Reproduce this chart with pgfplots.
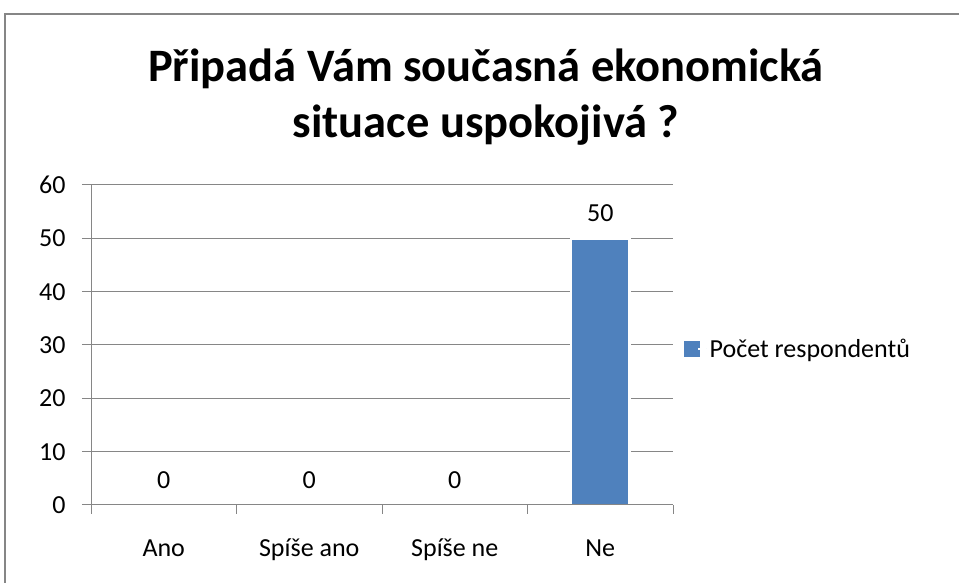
\documentclass[border=0pt]{standalone}
\usepackage{fontspec}
\setmainfont{Carlito}
\usepackage{pgfplots}
\pgfplotsset{compat=1.18}
\definecolor{barblue}{HTML}{4F81BD}
\definecolor{gridgray}{HTML}{868686}

% grid behind the bars, axis lines and ticks above them
\pgfplotsset{
  layers/barsunder/.define layer set={
    axis background,axis grid,pre main,main,axis ticks,axis lines,axis tick labels,axis descriptions,axis foreground
  }{
    grid style={/pgfplots/on layer=axis grid},
    tick style={/pgfplots/on layer=axis ticks},
    axis line style={/pgfplots/on layer=axis lines},
    label style={/pgfplots/on layer=axis descriptions},
    legend style={/pgfplots/on layer=axis descriptions},
    title style={/pgfplots/on layer=axis descriptions},
    ticklabel style={/pgfplots/on layer=axis tick labels},
    axis background@ style={/pgfplots/on layer=axis background},
  },
}

\newcommand{\lbl}{\fontsize{26}{31}\selectfont}

\begin{document}
\begin{tikzpicture}
  \begin{axis}[
    set layers=barsunder,
    at={(91pt,78pt)}, anchor=south west,
    scale only axis, width=582pt, height=320pt,
    xmin=-0.5, xmax=3.5, ymin=0, ymax=60,
    ytick={0,10,...,60},
    xtick={0,1,2,3},
    xticklabels={Ano,Spíše ano,Spíše ne,Ne},
    minor xtick={-0.5,0.5,1.5,2.5,3.5},
    major x tick style={draw=none},
    axis x line*=bottom, axis y line*=left,
    axis line style={gridgray, line width=1pt},
    tick style={gridgray, line width=1pt},
    tick align=outside,
    major tick length=9pt, minor tick length=9pt,
    ymajorgrids, grid style={gridgray, line width=1pt},
    /pgf/number format/assume math mode=true,
    y tick label style={font=\lbl, text=black, xshift=-13pt},
    x tick label style={font=\lbl, text=black, anchor=base, yshift=-43pt},
    ybar, bar width=58.5pt,
    nodes near coords,
    nodes near coords style={font=\lbl, text=black, yshift=12pt},
    legend style={draw=none, fill=none, at={(rel axis cs:1,0.5)}, anchor=west,
      xshift=11pt, yshift=-4pt, font=\lbl, inner sep=0pt},
    legend image code/.code={
      \fill[barblue] (0pt,-6.5pt) rectangle (13pt,6.5pt);
      \path (13pt,0pt) -- (21pt,0pt);
    },
  ]
    \addplot[fill=barblue, draw=white, line width=2.5pt] coordinates {
      (0,0)
      (1,0)
      (2,0)
      (3,50)
    };
    \addlegendentry{Počet respondentů}
  \end{axis}
  \draw[gridgray, line width=2pt] (5pt,-5pt) -- (5pt,569pt) -- (970pt,569pt);
  \node[font=\fontsize{46.5}{56}\selectfont\bfseries, anchor=base] at (486pt,501pt) {Připadá Vám současná ekonomická};
  \node[font=\fontsize{46.5}{56}\selectfont\bfseries, anchor=base] at (486pt,445pt) {situace uspokojivá ?};
  \pgfresetboundingbox
  \path[use as bounding box] (0pt,0pt) rectangle (959pt,583pt);
\end{tikzpicture}
\end{document}
